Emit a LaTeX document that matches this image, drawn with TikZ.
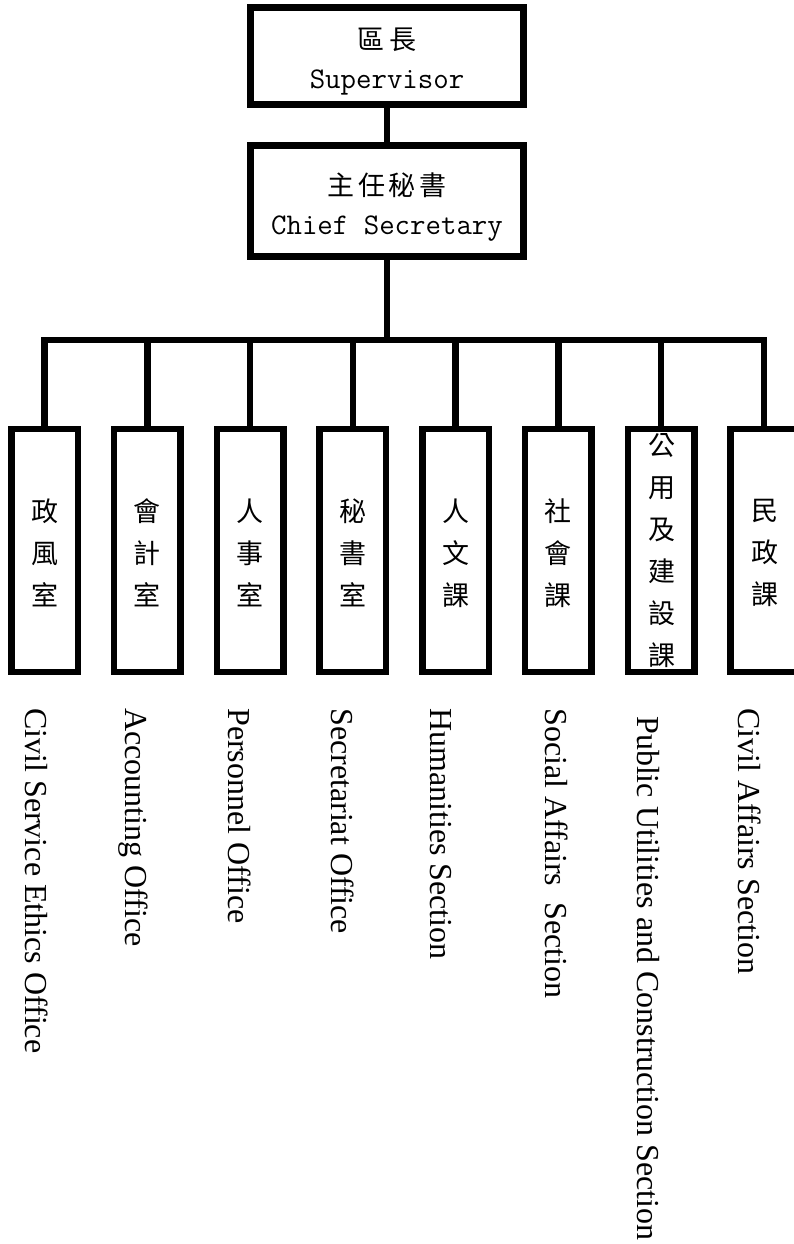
\documentclass[tikz,border=0pt]{standalone}
\usepackage{fontspec}
\setmainfont{Liberation Serif}
\newfontfamily\cjk{Noto Sans CJK TC}
\begin{document}
\begin{tikzpicture}[x=1pt,y=-1pt,
  bigbox/.style={draw=black, line width=6.5pt, minimum width=273pt, inner sep=0pt},
  unitbox/.style={draw=black, line width=6.5pt, minimum width=66.5pt, minimum height=243pt, inner sep=0pt},
  conn/.style={line width=6.5pt, line join=miter},
  cjktop/.style={font=\cjk\fontsize{27}{27}\selectfont, inner sep=0pt},
  monotop/.style={font=\ttfamily\fontsize{30}{30}\selectfont, inner sep=0pt, anchor=base},
  vtext/.style={font=\cjk\fontsize{27}{42}\selectfont, align=center, inner sep=0pt},
  elabel/.style={font=\fontsize{32}{32}\selectfont, rotate=-90, anchor=base west, inner sep=0pt}]
\useasboundingbox (0,0) rectangle (794,1244);
\fill[white] (0,0) rectangle (794,1244);

% top boxes
\node[bigbox, minimum height=97pt] (sup) at (387,56) {};
\node[cjktop] (supc) at (387,40) {區\hspace{5pt}長};
\node[monotop] (supe) at (387,89) {Supervisor};
\node[bigbox, minimum height=111pt] (sec) at (387,201) {};
\node[cjktop] (secc) at (387,185) {主\hspace{4pt}任\hspace{4pt}秘\hspace{4pt}書};
\node[monotop] (sece) at (387,234) {Chief Secretary};

% unit boxes
\node[unitbox] (b1) at (44.5,550.5) {};
\node[unitbox] (b2) at (147.25,550.5) {};
\node[unitbox] (b3) at (250,550.5) {};
\node[unitbox] (b4) at (352.75,550.5) {};
\node[unitbox] (b5) at (455.5,550.5) {};
\node[unitbox] (b6) at (558.25,550.5) {};
\node[unitbox] (b7) at (661,550.5) {};
\node[unitbox] (b8) at (763.75,550.5) {};

\node[vtext] (t1) at (45,553) {政\\風\\室};
\node[vtext] (t2) at (147.25,553) {會\\計\\室};
\node[vtext] (t3) at (250,553) {人\\事\\室};
\node[vtext] (t4) at (352.75,553) {秘\\書\\室};
\node[vtext] (t5) at (455.5,553) {人\\文\\課};
\node[vtext] (t6) at (558.25,553) {社\\會\\課};
\node[vtext] (t7) at (661.5,551) {公\\用\\及\\建\\設\\課};
\node[vtext] (t8) at (765,553) {民\\政\\課};

% connectors
\coordinate (bar) at (387,340);
\draw[conn] (sup.south) -- (sec.north);
\draw[conn] (sec.south) -- (bar);
\draw[conn] (b1.north) -- (bar -| b1.north) -- (bar -| b8.north) -- (b8.north);
\foreach \b in {b2,b3,b4,b5,b6,b7}
  \draw[conn] (bar -| \b.north) -- (\b.north);

% English labels
\node[elabel] (l1) at (25,708) {Civil Service Ethics Office};
\node[elabel] (l2) at (125.5,708) {Accounting Office};
\node[elabel] (l3) at (228.5,708) {Personnel Office};
\node[elabel] (l4) at (331,708) {Secretariat Office};
\node[elabel] (l5) at (430.5,708) {Humanities Section};
\node[elabel] (l6) at (545.5,708) {Social Affairs\ \ Section};
\node[elabel] (l7) at (637,716) {Public Utilities and Construction Section};
\node[elabel] (l8) at (738.5,708) {Civil Affairs Section};
\end{tikzpicture}
\end{document}
